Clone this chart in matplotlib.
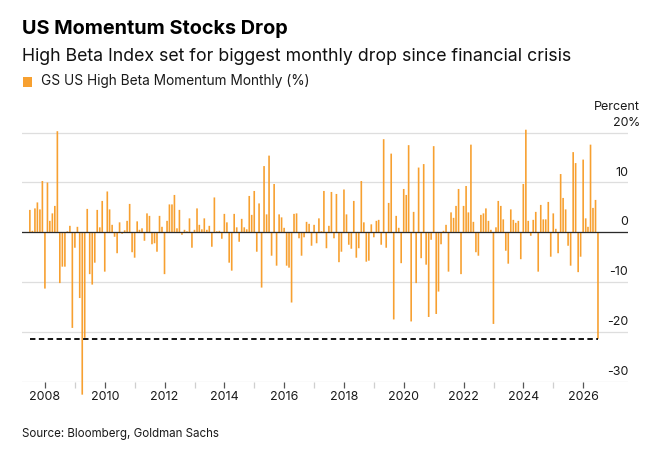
import matplotlib
matplotlib.use('Agg')
import matplotlib.pyplot as plt
import matplotlib.dates as mdates
from matplotlib.patches import Rectangle
import pandas as pd

plt.rcParams['font.family'] = ['Inter', 'DejaVu Sans']

# ---------------- data ----------------
values = [
    # 2007-2010
    4.5, 0.3, 4.8, 6.0, 4.6, 10.3, -11.3, 10.0, 2.3, 3.8, 5.3, 20.3, -10.2, -6.9, -6.9, 0.2,
    1.3, -19.2, -3.1, 1.1, -13.2, -32.6, -21.2, 4.7, -8.4, -10.5, -6.1, 4.5, 1.0, 6.3, -7.9,
    8.2, 4.6, 1.5, -0.9, -4.2, 2.0,
    # 2010-2013
    -0.3, 0.4, 2.3, 5.7, -4.0, -5.1, 2.2, 0.5, 0.8, -1.7, 3.8, 3.3, -2.4, -2.2, -3.9, 3.3,
    1.1, -8.4, 2.3, 5.6, 5.6, 7.5, 0.8, 4.5, -0.5, 0.5, 0.2, 2.8, -3.1, 0.5, 4.8, 1.5, 0.6,
    2.8, 0.5, 1.3,
    # 2013-2016
    -2.9, 7.0, 0.2, 0.3, -1.3, 3.7, 2.0, -6.1, -7.7, 3.7, 1.0, -1.9, 2.7, 1.0, 0.6, 7.3,
    3.5, 8.3, -3.9, 5.8, -11.1, 13.3, 3.6, 15.4, -4.7, 9.7, -6.7, 3.6, 3.0, 0.9, -6.7, -7.1,
    -14.1, 3.7, 3.8, -1.2, -4.7, -1.0,
    # 2016-2019
    2.1, 1.7, -2.7, 1.5, -2.2, 2.8, 0.2, 8.3, -3.2, 1.3, 8.1, -1.2, 7.7, -6.0, -3.9, 8.6,
    3.6, -2.5, -3.3, 6.3, -5.1, -3.2, 10.3, 2.0, -5.9, -5.7, 1.6, -1.0, 2.3, 2.5, -2.5, 18.7,
    -3.1, 5.9, 15.8, -17.5, 3.3, 0.9,
    # 2019-2023
    -6.2, 8.7, 7.5, 17.5, -17.9, 4.1, -10.2, 13.0, -5.2, 13.7, -6.5, -17.0, -1.5, 17.3,
    -16.4, -11.9, -2.4, 0.3, 1.5, -7.9, 4.0, 2.9, 5.3, 8.7, -8.4, 5.3, 9.3, 4.0, 17.6, 2.1,
    -4.0, -4.7, 3.5, 3.8, 4.8, 2.3, 0.5, -18.4,
    # 2023-2026
    1.0, 6.3, 5.3, 2.6, -3.7, -6.3, 4.6, 2.5, 1.9, 2.3, -5.4, 9.7, 20.6, 2.3, -0.7, 2.5,
    4.1, -7.9, 5.5, 2.6, 2.6, 6.1, -4.9, 3.8, 0.7, -4.2, 11.7, 6.9, 4.6, -2.7, -6.7, 16.1,
    13.9, -8.0, -4.9, 14.6, 2.8, 1.1, 17.6, 4.9, 6.5, -21.4,
]
dates = pd.date_range('2007-06-30', periods=len(values), freq='ME')

y_ticks = [20, 10, 0, -10, -20, -30]
y_tick_labels = ['20', '10', '0', '-10', '-20', '-30']
x_tick_years = list(range(2008, 2027, 2))
x_minor_years = list(range(2009, 2026, 2))

title = "US Momentum Stocks Drop"
subtitle = "High Beta Index set for biggest monthly drop since financial crisis"
legend_label = "GS US High Beta Momentum Monthly (%)"
source = "Source: Bloomberg, Goldman Sachs"
unit_label = "Percent"

# ---------------- style ----------------
W, H = 656, 454
ORANGE = '#F7A030'
GRID = '#dedede'
TXT = '#1a1a1a'

fig = plt.figure(figsize=(W / 100, H / 100), dpi=100)
fig.patch.set_facecolor('white')

ymin, ymax = -30, 22
scale = 4.98            # pixels per percent
ax_bottom_px = 381.7
ax_h = (ymax - ymin) * scale
ax = fig.add_axes([22 / W, 1 - ax_bottom_px / H, (628 - 22) / W, ax_h / H])
ax.set_ylim(ymin, ymax)

ref = mdates.date2num(pd.Timestamp('2008-01-01'))
px_per_year = 29.9
ax.set_xlim(ref - (45 - 22) / px_per_year * 365.25, ref + (628 - 45) / px_per_year * 365.25)

for s in ax.spines.values():
    s.set_visible(False)
ax.set_yticks([])

for v in y_ticks:
    ax.axhline(v, color=GRID, lw=0.9, zorder=0)

bars = ax.bar(dates, values, width=20, color=ORANGE, linewidth=0, zorder=2, clip_on=False)
for b in bars:
    b.set_snap(False)
ax.axhline(0, color='#2a2a2a', lw=0.9, zorder=3)

ax.plot([dates[0], dates[-1]], [values[-1], values[-1]], color='black', lw=1.3,
        linestyle=(0, (3.0, 1.9)), zorder=4)

# y labels above gridlines on the right
for v, lab in zip(y_ticks, y_tick_labels):
    ax.annotate(lab, xy=(1, v), xycoords=('axes fraction', 'data'), xytext=(0, 5),
                textcoords='offset points', ha='right', va='baseline', fontsize=9,
                color=TXT)
ax.annotate('%', xy=(1, y_ticks[0]), xycoords=('axes fraction', 'data'), xytext=(0, 5),
            textcoords='offset points', ha='left', va='baseline', fontsize=9, color=TXT)
fig.text(640 / W, 1 - 110 / H, unit_label, ha='right', va='baseline', fontsize=9, color=TXT)

# x ticks
ax.set_xticks([pd.Timestamp(f'{y}-01-01') for y in x_tick_years])
ax.set_xticklabels([str(y) for y in x_tick_years], fontsize=9, color=TXT)
ax.set_xticks([pd.Timestamp(f'{y}-01-01') for y in x_minor_years], minor=True)
ax.tick_params(axis='x', which='major', length=4, width=0.9, color='#555555', pad=3)
ax.tick_params(axis='x', which='minor', length=4, width=0.9, color='#cfcfcf')

# header texts
t_title = fig.text(22 / W, 1 - 34.3 / H, title, fontsize=13, fontweight='bold',
                   va='baseline', color='black')
t_sub = fig.text(22 / W, 1 - 61 / H, subtitle, fontsize=11, va='baseline', color='#111111')
fig.patches.append(Rectangle((23 / W, 1 - 86.5 / H), 9 / W, 9 / H, transform=fig.transFigure,
                             facecolor=ORANGE, edgecolor='none'))
t_leg = fig.text(41.3 / W, 1 - 85 / H, legend_label, fontsize=9.5, va='baseline', color=TXT)
t_src = fig.text(22 / W, 1 - 437.3 / H, source, fontsize=8, va='baseline', color=TXT)

renderer = fig.canvas.get_renderer()
def fit(t, target):
    w = t.get_window_extent(renderer).width
    t.set_fontsize(t.get_fontsize() * target / w)

fit(t_title, 266.7)
fit(t_sub, 545)
fit(t_leg, 268.7)
fit(t_src, 198.7)

fig.savefig('out.png', dpi=100)
